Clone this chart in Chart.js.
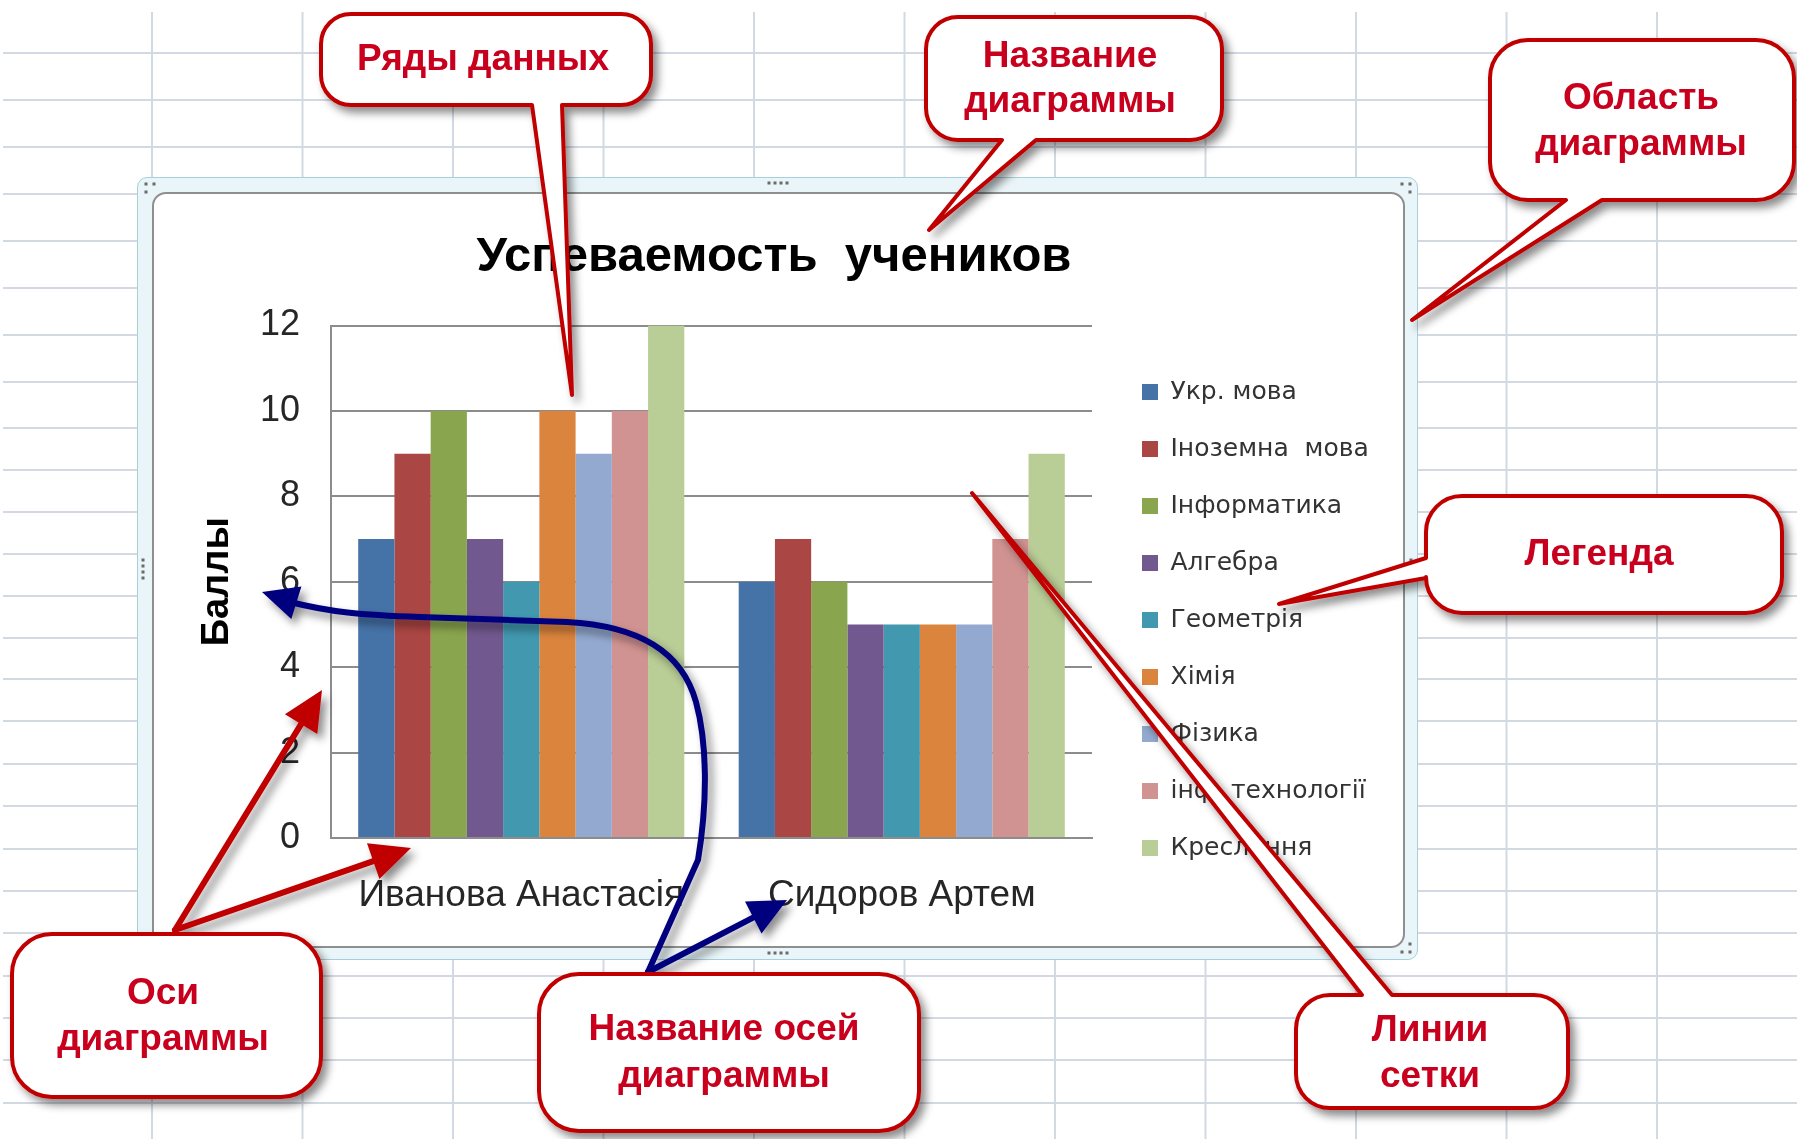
<!DOCTYPE html>
<html lang="ru">
<head>
<meta charset="utf-8">
<title>Успеваемость учеников</title>
<script src="https://cdn.jsdelivr.net/npm/chart.js@4.4.1/dist/chart.umd.min.js"></script>
<style>
  html, body { margin: 0; padding: 0; background: #fff; }
  body { position: relative; width: 1797px; height: 1139px; overflow: hidden; }
  #sheet, #notes { position: absolute; left: 0; top: 0; }
  #sheet { z-index: 0; }
  #notes { z-index: 5; pointer-events: none; }
  #frame { position: absolute; left: 137px; top: 177px; width: 1279px; height: 781px;
           background: #e9f5f8; border: 1px solid #a6d0db; border-radius: 10px; z-index: 1; }
  #plotbox { position: absolute; left: 152px; top: 192px; width: 1249px; height: 752px;
             background: #fff; border: 2px solid #8f8f8f; border-radius: 14px; z-index: 2; }
  #chart { position: absolute; left: 152px; top: 192px; z-index: 3; }
</style>
</head>
<body>
<svg id="sheet" width="1797" height="1139"></svg>
<div id="frame"></div>
<div id="plotbox"></div>
<canvas id="chart" width="1253" height="756"></canvas>
<svg id="notes" width="1797" height="1139"></svg>
<script>
// data
var students = ['Иванова Анастасія', 'Сидоров Артем'];
var subjects = ['Укр. мова', 'Іноземна  мова', 'Інформатика', 'Алгебра', 'Геометрія',
                'Хімія', 'Фізика', 'інф. технології', 'Креслення'];
var ivanova = [7, 9, 10, 7, 6, 10, 9, 10, 12];
var sydorov = [6, 7, 6, 5, 5, 5, 5, 7, 9];
var yTicks = [0, 2, 4, 6, 8, 10, 12];
var colors = ['#4572A7', '#AA4643', '#89A54E', '#71588F', '#4198AF',
              '#DB843D', '#93A9CF', '#D19392', '#B9CD96'];

var gridGray = '#8c8c8c';
var legendFont = "'DejaVu Sans', Verdana, sans-serif";
Chart.defaults.font.family = "'Liberation Sans', Arial, sans-serif";

// legend sits right of the plot; its width follows the longest label
var mctx = document.createElement('canvas').getContext('2d');
mctx.font = '25px ' + legendFont;
var longest = Math.max.apply(null, subjects.map(function(s){ return mctx.measureText(s).width; }));
var legendW = Math.ceil(32 + 16 + 12.5 + longest + 1);
var padR = 1253 - 940 - 18 - legendW;
var padL = Math.max(0, Math.min(36, padR - 9));

var datasets = [];
for (var i = 0; i < subjects.length; i++) {
  datasets.push({
    label: subjects[i],
    data: [ivanova[i], sydorov[i]],
    backgroundColor: colors[i],
    borderWidth: 0,
    categoryPercentage: 0.857,
    barPercentage: 1.0
  });
}

var chart = new Chart(document.getElementById('chart'), {
  type: 'bar',
  data: { labels: students, datasets: datasets },
  options: {
    responsive: false,
    animation: false,
    layout: { padding: { top: 0, right: padR, bottom: 0, left: padL } },
    plugins: {
      title: {
        display: true,
        text: 'Успеваемость  учеников',
        color: '#000',
        font: { size: 49, weight: 'bold' },
        padding: { top: 36, bottom: 38.7 }
      },
      legend: {
        position: 'right',
        align: 'start',
        maxWidth: legendW,
        title: { display: true, text: ' ', font: { size: 1, lineHeight: 1 }, padding: { top: 154.5, bottom: 0 } },
        labels: {
          boxWidth: 16,
          boxHeight: 16,
          padding: 32,
          color: '#333',
          font: { family: legendFont, size: 25 }
        }
      },
      tooltip: { enabled: false }
    },
    scales: {
      x: {
        grid: { display: false, drawTicks: false },
        border: { display: true, color: gridGray, width: 2 },
        ticks: { color: '#262626', font: { size: 37 }, padding: 36, maxRotation: 0, autoSkip: false },
        afterFit: function(s){ s.height = 110; }
      },
      y: {
        min: 0,
        max: 12,
        afterBuildTicks: function(s){ s.ticks = yTicks.map(function(v){ return { value: v }; }); },
        ticks: { color: '#262626', font: { size: 36 }, padding: 31 },
        grid: { color: gridGray, lineWidth: 2, drawTicks: false },
        border: { display: true, color: gridGray, width: 2 },
        title: { display: true, text: 'Баллы', color: '#000', font: { size: 38, weight: 'bold' },
                 padding: { top: Math.max(0, 42.7 - padL), bottom: 0 } },
        afterFit: function(s){ s.width = 179 - padL; }
      },
      y2: {
        position: 'right',
        display: true,
        grid: { display: false, drawTicks: false },
        ticks: { display: false },
        border: { display: false },
        afterFit: function(s){ s.width = 18; }
      }
    }
  }
});

// spreadsheet behind the chart
var NS = 'http://www.w3.org/2000/svg';
function el(tag, attrs, parent) {
  var e = document.createElementNS(NS, tag);
  for (var k in attrs) e.setAttribute(k, attrs[k]);
  if (parent) parent.appendChild(e);
  return e;
}
var sheet = document.getElementById('sheet');
var colX = [152, 302.5, 453, 603.5, 754, 904.5, 1055, 1205.5, 1356, 1506.5, 1657];
var rowY = [53, 100, 147, 194, 241, 288, 335, 382, 428, 470, 512, 554, 596, 638, 679,
            721, 764, 806, 849, 891, 933, 976, 1018, 1060, 1103];
colX.forEach(function(x){ el('line', { x1: x, y1: 12, x2: x, y2: 1139, stroke: '#d3d9e3', 'stroke-width': 2 }, sheet); });
rowY.forEach(function(y){ el('line', { x1: 3, y1: y, x2: 1797, y2: y, stroke: '#d3d9e3', 'stroke-width': 2 }, sheet); });

// callouts and arrows on top
var notes = document.getElementById('notes');
var defs = el('defs', {}, notes);
var f = el('filter', { id: 'sh', x: '-20%', y: '-20%', width: '150%', height: '150%' }, defs);
el('feDropShadow', { dx: 5, dy: 6, stdDeviation: 4, 'flood-color': '#000', 'flood-opacity': 0.45 }, f);

// selection grips of the chart object
var grips = [[146, 184], [154, 184], [146, 192], [1402, 184], [1410, 184], [1410, 192],
             [1402, 952], [1410, 952], [1410, 944],
             [769, 183], [775, 183], [781, 183], [787, 183],
             [769, 953], [775, 953], [781, 953], [787, 953],
             [143, 560], [143, 566], [143, 572], [143, 578],
             [1411, 560], [1411, 566], [1411, 572], [1411, 578]];
grips.forEach(function(p){ el('rect', { x: p[0] - 1.5, y: p[1] - 1.5, width: 3, height: 3, fill: '#6b6b6b' }, notes); });

function head(tip, from, len, half) {
  var dx = tip[0] - from[0], dy = tip[1] - from[1], L = Math.hypot(dx, dy);
  var ux = dx / L, uy = dy / L;
  var bx = tip[0] - ux * len, by = tip[1] - uy * len;
  return tip[0] + ',' + tip[1] + ' ' + (bx - uy * half) + ',' + (by + ux * half) + ' ' + (bx + uy * half) + ',' + (by - ux * half);
}
function back(tip, from, len) {
  var dx = tip[0] - from[0], dy = tip[1] - from[1], L = Math.hypot(dx, dy);
  return [tip[0] - dx / L * len, tip[1] - dy / L * len];
}

var arrows = el('g', { filter: 'url(#sh)' }, notes);
// blue: axis titles
var blue = '#00007f';
el('path', { d: 'M648,972 L698,860 C708,800 707,742 696,702 C682,652 640,626 567,622 L420,617 C360,615 330,612 290,602',
             fill: 'none', stroke: blue, 'stroke-width': 6, 'stroke-linecap': 'round' }, arrows);
el('polygon', { points: head([262, 592], [310, 607], 36, 17), fill: blue }, arrows);
var b2 = back([787, 900], [648, 972], 30);
el('line', { x1: 648, y1: 972, x2: b2[0], y2: b2[1], stroke: blue, 'stroke-width': 6, 'stroke-linecap': 'round' }, arrows);
el('polygon', { points: head([787, 900], [648, 972], 38, 18), fill: blue }, arrows);
// red: axes
var red = '#c00000';
[[322, 690], [411, 848]].forEach(function(t){
  var b = back(t, [175, 930], 30);
  el('line', { x1: 175, y1: 930, x2: b[0], y2: b[1], stroke: red, 'stroke-width': 6, 'stroke-linecap': 'round' }, arrows);
  el('polygon', { points: head(t, [175, 930], 40, 19), fill: red }, arrows);
});

var callouts = [
  { x: 321, y: 14, w: 330, h: 91, r: 30, lines: ['Ряды данных'], cx: 483, base: [70], tail: { side: 'bottom', a: 532, b: 562, tip: [572, 395] } },
  { x: 926, y: 17, w: 296, h: 123, r: 32, lines: ['Название', 'диаграммы'], cx: 1070, base: [67, 112], tail: { side: 'bottom', a: 1002, b: 1036, tip: [929, 230] } },
  { x: 1490, y: 40, w: 304, h: 160, r: 38, lines: ['Область', 'диаграммы'], cx: 1641, base: [109, 155], tail: { side: 'bottom', a: 1566, b: 1602, tip: [1412, 320] } },
  { x: 1426, y: 496, w: 356, h: 117, r: 36, lines: ['Легенда'], cx: 1599, base: [565], tail: { side: 'left', a: 558, b: 578, tip: [1279, 604] } },
  { x: 1296, y: 995, w: 272, h: 113, r: 34, lines: ['Линии', 'сетки'], cx: 1430, base: [1041, 1087], tail: { side: 'top', a: 1362, b: 1392, tip: [972, 493] } },
  { x: 539, y: 974, w: 380, h: 157, r: 40, lines: ['Название осей', 'диаграммы'], cx: 724, base: [1040, 1087] },
  { x: 12, y: 934, w: 309, h: 163, r: 40, lines: ['Оси', 'диаграммы'], cx: 163, base: [1004, 1050] }
];

function calloutPath(c) {
  var x = c.x, y = c.y, R = c.x + c.w, B = c.y + c.h, r = c.r, t = c.tail;
  var d = 'M' + (x + r) + ',' + y;
  if (t && t.side === 'top') d += ' L' + t.a + ',' + y + ' L' + t.tip[0] + ',' + t.tip[1] + ' L' + t.b + ',' + y;
  d += ' L' + (R - r) + ',' + y + ' A' + r + ',' + r + ' 0 0 1 ' + R + ',' + (y + r);
  d += ' L' + R + ',' + (B - r) + ' A' + r + ',' + r + ' 0 0 1 ' + (R - r) + ',' + B;
  if (t && t.side === 'bottom') d += ' L' + t.b + ',' + B + ' L' + t.tip[0] + ',' + t.tip[1] + ' L' + t.a + ',' + B;
  d += ' L' + (x + r) + ',' + B + ' A' + r + ',' + r + ' 0 0 1 ' + x + ',' + (B - r);
  if (t && t.side === 'left') d += ' L' + x + ',' + t.b + ' L' + t.tip[0] + ',' + t.tip[1] + ' L' + x + ',' + t.a;
  d += ' L' + x + ',' + (y + r) + ' A' + r + ',' + r + ' 0 0 1 ' + (x + r) + ',' + y + ' Z';
  return d;
}

callouts.forEach(function(c){
  var g = el('g', {}, notes);
  el('path', { d: calloutPath(c), fill: '#fff', stroke: red, 'stroke-width': 4, 'stroke-linejoin': 'round', filter: 'url(#sh)' }, g);
  c.lines.forEach(function(s, k){
    var t = el('text', { x: c.cx, y: c.base[k], 'text-anchor': 'middle', fill: '#c8001e',
                         'font-family': "'Liberation Sans', Arial, sans-serif", 'font-weight': 'bold', 'font-size': 37 }, g);
    t.textContent = s;
  });
});
</script>
</body>
</html>
